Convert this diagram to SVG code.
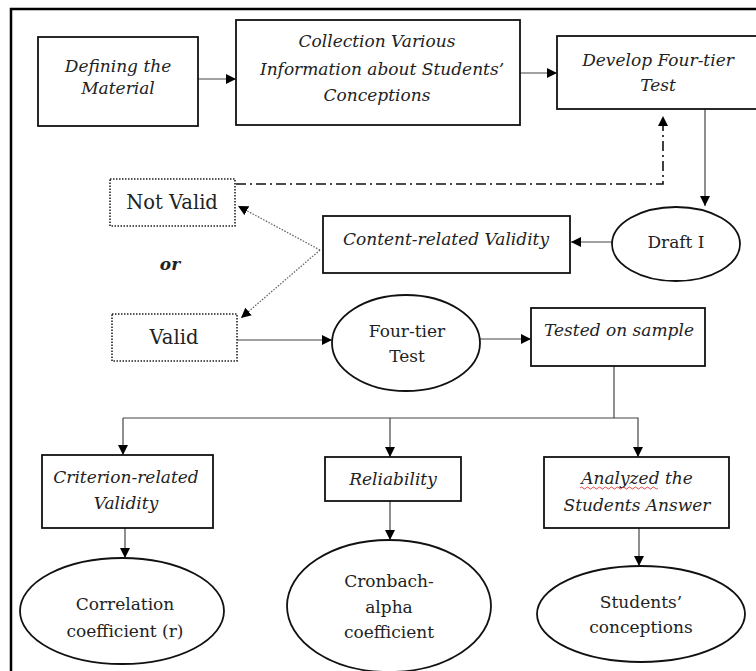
<svg xmlns="http://www.w3.org/2000/svg" width="756" height="671" viewBox="0 0 756 671" font-family="'DejaVu Serif', 'Liberation Serif', serif">
<defs>
<marker id="ah" viewBox="0 0 10 10" refX="10" refY="5" markerWidth="10" markerHeight="10" markerUnits="userSpaceOnUse" orient="auto">
<path d="M0,0 L10,5 L0,10 z" fill="#000"/>
</marker>
<style>
.box{fill:#fff;stroke:#111;stroke-width:1.8}
.dbox{fill:#fff;stroke:#222;stroke-width:1.6;stroke-dasharray:1.5,1.5}
.ell{fill:#fff;stroke:#111;stroke-width:1.8}
.ln{fill:none;stroke:#444;stroke-width:1.2}
.dd{fill:none;stroke:#111;stroke-width:1.6;stroke-dasharray:10,4,2,4}
.dot{fill:none;stroke:#666;stroke-width:1.3;stroke-dasharray:1.5,1.5}
.t{font-family:'DejaVu Serif','Liberation Serif',serif;font-size:17px;fill:#222;text-anchor:middle}
.big{font-size:19.5px}
.it{font-style:italic}
.b{font-weight:bold}
</style>
</defs>
<path d="M11,671 V9 H756" fill="none" stroke="#000" stroke-width="2.5"/>
<g id="connectors">
<line class="ln" x1="198" y1="79" x2="236" y2="79" marker-end="url(#ah)"/>
<line class="ln" x1="520" y1="73" x2="557" y2="73" marker-end="url(#ah)"/>
<line class="ln" x1="705" y1="109" x2="705" y2="206" marker-end="url(#ah)"/>
<polyline class="dd" points="236,184 663,184 663,125"/>
<path d="M658,126 L663,116 L668,126 z" fill="#000"/>
<line class="ln" x1="612" y1="242" x2="571" y2="242" marker-end="url(#ah)"/>
<line class="dot" x1="320" y1="250" x2="238" y2="206" marker-end="url(#ah)"/>
<line class="dot" x1="320" y1="250" x2="241" y2="318" marker-end="url(#ah)"/>
<line class="ln" x1="237" y1="340" x2="332" y2="340" marker-end="url(#ah)"/>
<line class="ln" x1="480" y1="339" x2="531" y2="339" marker-end="url(#ah)"/>
<polyline class="ln" points="614,366 614,418"/>
<polyline class="ln" points="123,418 638,418 638,457" marker-end="url(#ah)"/>
<line class="ln" x1="123" y1="418" x2="123" y2="455" marker-end="url(#ah)"/>
<line class="ln" x1="390" y1="418" x2="390" y2="457" marker-end="url(#ah)"/>
<line class="ln" x1="125" y1="528" x2="125" y2="558" marker-end="url(#ah)"/>
<line class="ln" x1="390" y1="501" x2="390" y2="540" marker-end="url(#ah)"/>
<line class="ln" x1="639" y1="528" x2="639" y2="566" marker-end="url(#ah)"/>
</g>
<g id="n-defining">
<rect class="box" x="38" y="37" width="160" height="89"/>
<text class="t it" x="118" y="72">Defining the</text>
<text class="t it" x="118" y="94">Material</text>
</g>
<g id="n-collection">
<rect class="box" x="236" y="20" width="284" height="105"/>
<text class="t it" x="377" y="47">Collection Various</text>
<text class="t it" x="382" y="75">Information about Students’</text>
<text class="t it" x="377" y="101">Conceptions</text>
</g>
<g id="n-develop">
<rect class="box" x="557" y="36" width="210" height="73"/>
<text class="t it" x="658" y="66">Develop Four-tier</text>
<text class="t it" x="658" y="91">Test</text>
</g>
<g id="n-notvalid">
<rect class="dbox" x="110" y="179" width="125" height="47"/>
<text class="t big" x="172" y="209">Not Valid</text>
</g>
<g id="n-or">
<text class="t it b" x="170" y="270">or</text>
</g>
<g id="n-valid">
<rect class="dbox" x="112" y="314" width="125" height="47"/>
<text class="t big" x="174" y="344">Valid</text>
</g>
<g id="n-content">
<rect class="box" x="323" y="216" width="247" height="57"/>
<text class="t it" x="446" y="245">Content-related Validity</text>
</g>
<g id="n-draft">
<ellipse class="ell" cx="676" cy="244" rx="64" ry="37"/>
<text class="t" x="676" y="248">Draft I</text>
</g>
<g id="n-fourtier">
<ellipse class="ell" cx="406" cy="343" rx="74" ry="48"/>
<text class="t" x="407" y="337">Four-tier</text>
<text class="t" x="407" y="362">Test</text>
</g>
<g id="n-tested">
<rect class="box" x="531" y="308" width="174" height="58"/>
<text class="t it" x="619" y="336">Tested on sample</text>
</g>
<g id="n-criterion">
<rect class="box" x="42" y="455" width="171" height="73"/>
<text class="t it" x="126" y="483">Criterion-related</text>
<text class="t it" x="126" y="509">Validity</text>
</g>
<g id="n-reliability">
<rect class="box" x="325" y="457" width="136" height="44"/>
<text class="t it" x="393" y="485">Reliability</text>
</g>
<g id="n-analyzed">
<rect class="box" x="544" y="457" width="185" height="71"/>
<text class="t it" x="637" y="484">Analyzed the</text>
<path d="M580,488 q1.5,-2 3,0 t3,0 t3,0 t3,0 t3,0 t3,0 t3,0 t3,0 t3,0 t3,0 t3,0 t3,0 t3,0 t3,0 t3,0 t3,0 t3,0 t3,0 t3,0 t3,0 t3,0 t3,0 t3,0 t3,0 t3,0 t3,0" fill="none" stroke="#d33" stroke-width="0.9"/>
<text class="t it" x="637" y="511">Students Answer</text>
</g>
<g id="n-correlation">
<ellipse class="ell" cx="122" cy="611" rx="102" ry="53"/>
<text class="t" x="125" y="610">Correlation</text>
<text class="t" x="125" y="637">coefficient (r)</text>
</g>
<g id="n-cronbach">
<ellipse class="ell" cx="389" cy="606" rx="102" ry="66"/>
<text class="t" x="389" y="587">Cronbach-</text>
<text class="t" x="389" y="613">alpha</text>
<text class="t" x="389" y="638">coefficient</text>
</g>
<g id="n-students">
<ellipse class="ell" cx="641" cy="614" rx="104" ry="48"/>
<text class="t" x="641" y="608">Students’</text>
<text class="t" x="641" y="633">conceptions</text>
</g>
</svg>
